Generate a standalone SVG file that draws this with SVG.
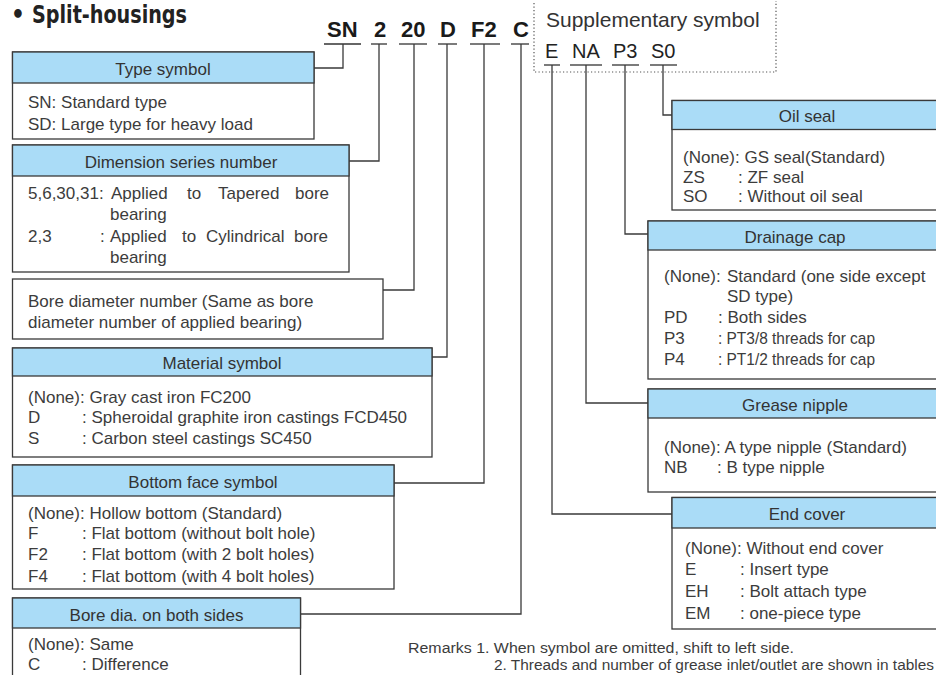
<svg xmlns="http://www.w3.org/2000/svg" width="936" height="675" viewBox="0 0 936 675">
<style>
.box{fill:#fff;stroke:#3a3a3a;stroke-width:1.3}
.hdr{fill:#aadcf7;stroke:#3a3a3a;stroke-width:1.3}
text{font-family:"Liberation Sans",Arial,sans-serif}
.ht{font-size:17px;fill:#333;text-anchor:middle}
.bt{font-size:17px;fill:#3c3c3c}
.code{font-size:22px;font-weight:bold;fill:#1a1a1a}
.sup{font-size:20px;fill:#222}
.conn{fill:none;stroke:#3a3a3a;stroke-width:1.3}
.ul{stroke:#333;stroke-width:1.3}
.rm{font-size:15.5px;fill:#3c3c3c}
.ttl{font-family:"Liberation Sans Narrow","DejaVu Sans Condensed","Liberation Sans",sans-serif;font-weight:bold;fill:#222}
</style>
<rect width="936" height="675" fill="#fff"/>

<g id="title">
<text class="ttl" x="11" y="23" style="font-size:24px">•</text>
<text class="ttl" x="32" y="23" textLength="155" lengthAdjust="spacingAndGlyphs" style="font-size:25px">Split-housings</text>
</g>

<g id="code">
<text class="code" x="327" y="37">SN</text>
<text class="code" x="374" y="37">2</text>
<text class="code" x="401" y="37">20</text>
<text class="code" x="440" y="37">D</text>
<text class="code" x="471" y="37">F2</text>
<text class="code" x="513" y="37">C</text>
<line class="ul" x1="324" y1="44" x2="361" y2="44"/>
<line class="ul" x1="371" y1="44" x2="387" y2="44"/>
<line class="ul" x1="399" y1="44" x2="427" y2="44"/>
<line class="ul" x1="438" y1="44" x2="457" y2="44"/>
<line class="ul" x1="470" y1="44" x2="500" y2="44"/>
<line class="ul" x1="511" y1="44" x2="529" y2="44"/>
</g>

<g id="supplementary">
<path d="M534,3 V72 H776 V1" fill="none" stroke="#555" stroke-width="1.2" stroke-dasharray="1.2 2.3"/>
<text x="546" y="27" style="font-size:21px;fill:#333">Supplementary symbol</text>
<text class="sup" x="545" y="58">E</text>
<text class="sup" x="572" y="58">NA</text>
<text class="sup" x="613" y="58">P3</text>
<text class="sup" x="651" y="58">S0</text>
<line class="ul" x1="544" y1="65" x2="560" y2="65"/>
<line class="ul" x1="570" y1="65" x2="602" y2="65"/>
<line class="ul" x1="612" y1="65" x2="639" y2="65"/>
<line class="ul" x1="650" y1="65" x2="677" y2="65"/>
</g>

<g id="connectors">
<path class="conn" d="M343,44 V68 H314"/>
<path class="conn" d="M379,44 V161 H349"/>
<path class="conn" d="M414,44 V290 H383"/>
<path class="conn" d="M447,44 V357 H432"/>
<path class="conn" d="M484,44 V483 H394"/>
<path class="conn" d="M521,44 V614 H300.5"/>
<path class="conn" d="M552,65 V514 H672"/>
<path class="conn" d="M586,65 V403 H648"/>
<path class="conn" d="M625,65 V234 H648"/>
<path class="conn" d="M663,65 V115 H672"/>
</g>

<g id="type-symbol">
<rect class="box" x="12.5" y="52" width="301.5" height="87"/>
<rect class="hdr" x="12.5" y="52" width="301.5" height="31"/>
<text class="ht" x="163" y="74.5">Type symbol</text>
<text class="bt" x="28" y="108">SN: Standard type</text>
<text class="bt" x="28" y="130">SD: Large type for heavy load</text>
</g>

<g id="dimension-series">
<rect class="box" x="12.5" y="145" width="336.5" height="127"/>
<rect class="hdr" x="12.5" y="145" width="336.5" height="31"/>
<text class="ht" x="181" y="167.5">Dimension series number</text>
<text class="bt" x="28" y="199">5,6,30,31:</text>
<text class="bt" x="111" y="199">Applied</text>
<text class="bt" x="187" y="199">to</text>
<text class="bt" x="218" y="199">Tapered</text>
<text class="bt" x="295" y="199">bore</text>
<text class="bt" x="110" y="220">bearing</text>
<text class="bt" x="28" y="242">2,3</text>
<text class="bt" x="100" y="242">:</text>
<text class="bt" x="110" y="242">Applied</text>
<text class="bt" x="182" y="242">to</text>
<text class="bt" x="206" y="242">Cylindrical</text>
<text class="bt" x="294" y="242">bore</text>
<text class="bt" x="110" y="263">bearing</text>
</g>

<g id="bore-diameter">
<rect class="box" x="12.5" y="279" width="370.5" height="60"/>
<text class="bt" x="28" y="307">Bore diameter number (Same as bore</text>
<text class="bt" x="28" y="328">diameter number of applied bearing)</text>
</g>

<g id="material">
<rect class="box" x="12.5" y="348" width="419.5" height="109"/>
<rect class="hdr" x="12.5" y="348" width="419.5" height="28"/>
<text class="ht" x="222" y="369">Material symbol</text>
<text class="bt" x="28" y="403">(None): Gray cast iron FC200</text>
<text class="bt" x="28" y="423">D</text>
<text class="bt" x="82" y="423">: Spheroidal graphite iron castings FCD450</text>
<text class="bt" x="28" y="444">S</text>
<text class="bt" x="82" y="444">: Carbon steel castings SC450</text>
</g>

<g id="bottom-face">
<rect class="box" x="12.5" y="465" width="381.5" height="124"/>
<rect class="hdr" x="12.5" y="465" width="381.5" height="31"/>
<text class="ht" x="203" y="487.5">Bottom face symbol</text>
<text class="bt" x="28" y="519">(None): Hollow bottom (Standard)</text>
<text class="bt" x="28" y="539">F</text>
<text class="bt" x="82" y="539">: Flat bottom (without bolt hole)</text>
<text class="bt" x="28" y="560">F2</text>
<text class="bt" x="82" y="560">: Flat bottom (with 2 bolt holes)</text>
<text class="bt" x="28" y="582">F4</text>
<text class="bt" x="82" y="582">: Flat bottom (with 4 bolt holes)</text>
</g>

<g id="bore-dia-sides">
<rect class="box" x="12.5" y="598" width="288" height="90"/>
<rect class="hdr" x="12.5" y="598" width="288" height="30"/>
<text class="ht" x="156.5" y="620.5">Bore dia. on both sides</text>
<text class="bt" x="28" y="650">(None): Same</text>
<text class="bt" x="28" y="670">C</text>
<text class="bt" x="82" y="670">: Difference</text>
</g>

<g id="oil-seal">
<rect class="box" x="672" y="100.5" width="270" height="109.5"/>
<rect class="hdr" x="672" y="100.5" width="270" height="29"/>
<text class="ht" x="807" y="122">Oil seal</text>
<text class="bt" x="683" y="163">(None): GS seal(Standard)</text>
<text class="bt" x="683" y="183">ZS</text>
<text class="bt" x="738" y="183">: ZF seal</text>
<text class="bt" x="683" y="202">SO</text>
<text class="bt" x="738" y="202">: Without oil seal</text>
</g>

<g id="drainage-cap">
<rect class="box" x="648" y="221" width="294" height="158"/>
<rect class="hdr" x="648" y="221" width="294" height="29"/>
<text class="ht" x="795" y="242.5">Drainage cap</text>
<text class="bt" x="664" y="282">(None):</text>
<text class="bt" x="727" y="282">Standard (one side except</text>
<text class="bt" x="727" y="302">SD type)</text>
<text class="bt" x="664" y="323">PD</text>
<text class="bt" x="718" y="323">: Both sides</text>
<text class="bt" x="664" y="344">P3</text>
<text class="bt" x="718" y="344" textLength="157" lengthAdjust="spacingAndGlyphs">: PT3/8 threads for cap</text>
<text class="bt" x="664" y="365">P4</text>
<text class="bt" x="718" y="365" textLength="157" lengthAdjust="spacingAndGlyphs">: PT1/2 threads for cap</text>
</g>

<g id="grease-nipple">
<rect class="box" x="648" y="389" width="294" height="103"/>
<rect class="hdr" x="648" y="389" width="294" height="29"/>
<text class="ht" x="795" y="410.5">Grease nipple</text>
<text class="bt" x="664" y="453">(None): A type nipple (Standard)</text>
<text class="bt" x="664" y="473">NB</text>
<text class="bt" x="717" y="473">: B type nipple</text>
</g>

<g id="end-cover">
<rect class="box" x="672" y="497.5" width="270" height="131.5"/>
<rect class="hdr" x="672" y="497.5" width="270" height="30.5"/>
<text class="ht" x="807" y="520">End cover</text>
<text class="bt" x="685" y="554">(None): Without end cover</text>
<text class="bt" x="685" y="575">E</text>
<text class="bt" x="740" y="575">: Insert type</text>
<text class="bt" x="685" y="597">EH</text>
<text class="bt" x="740" y="597">: Bolt attach type</text>
<text class="bt" x="685" y="619">EM</text>
<text class="bt" x="740" y="619">: one-piece type</text>
</g>

<g id="remarks">
<text class="rm" x="408" y="653" textLength="386" lengthAdjust="spacingAndGlyphs">Remarks 1. When symbol are omitted, shift to left side.</text>
<text class="rm" x="494" y="670" textLength="440" lengthAdjust="spacingAndGlyphs">2. Threads and number of grease inlet/outlet are shown in tables</text>
</g>
</svg>
